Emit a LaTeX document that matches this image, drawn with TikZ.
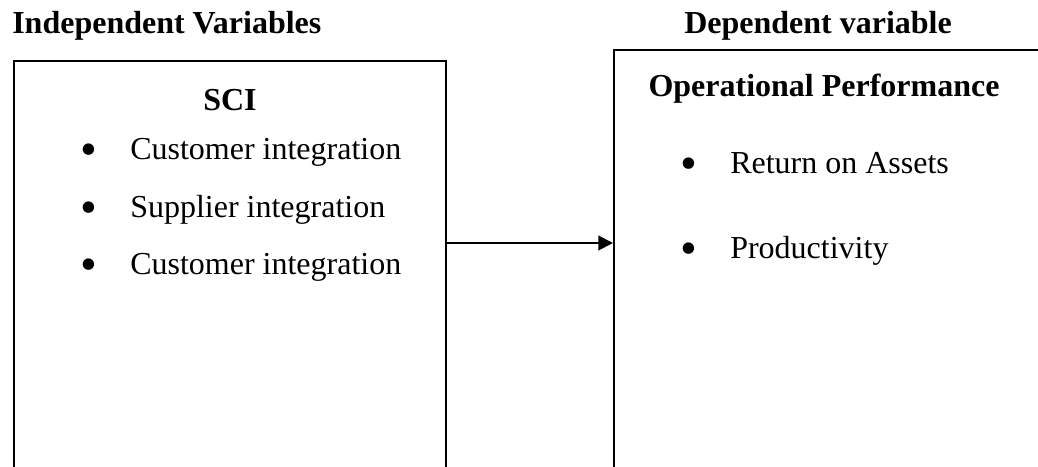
\documentclass[tikz,border=0pt]{standalone}
\usepackage{fontspec}
\setmainfont{Liberation Serif}
\usepackage{tikz}
\usetikzlibrary{arrows.meta,positioning,calc}

\newcommand{\bigdot}{\makebox[37.8pt][l]{\hspace{0.8pt}\raisebox{-5pt}{\fontsize{36}{36}\selectfont\textbullet}}}

\begin{document}
\begin{tikzpicture}[
    x=0.75pt, y=-0.75pt,
    heading/.style={inner sep=0pt, font=\fontsize{24}{28}\selectfont\bfseries},
    item/.style={inner sep=0pt, anchor=base west, font=\fontsize{24}{28}\selectfont},
    box/.style={rectangle, draw, line width=1.5pt, inner sep=0pt, anchor=north west, minimum width=324pt},
    line/.style={draw, line width=1.5pt, -{Triangle[length=11pt, width=11pt]}}
]
    \useasboundingbox (0,0) rectangle (1038,467);
    \clip (0,0) rectangle (1038,467);

    % Boxes
    \node [box, minimum height=345pt] (sci) at (13,60) {};
    \node [box, minimum height=353pt] (perf) at (613,49) {};

    % Headings
    \node [heading, anchor=base west] (indep) at (12,34) {Independent Variables};
    \node [heading, anchor=base west] (dep) at (684,34) {Dependent variable};
    \node [heading, anchor=base] (scititle) at (230,110) {SCI};
    \node [heading, anchor=base] (perftitle) at (824,97) {Operational Performance};

    % Items
    \node [item] (cust) at (79.6,159) {\bigdot Customer integration};
    \node [item] (supp) at (79.6,217) {\bigdot Supplier integration};
    \node [item] (custb) at (79.6,274) {\bigdot Customer integration};
    \node [item] (roa) at (679.6,173) {\bigdot Return on Assets};
    \node [item] (prod) at (679.6,258) {\bigdot Productivity};

    % Path connections
    \coordinate (level) at (0,243);
    \draw [line] (sci.east |- level) -- (perf.west |- level);

\end{tikzpicture}
\end{document}
